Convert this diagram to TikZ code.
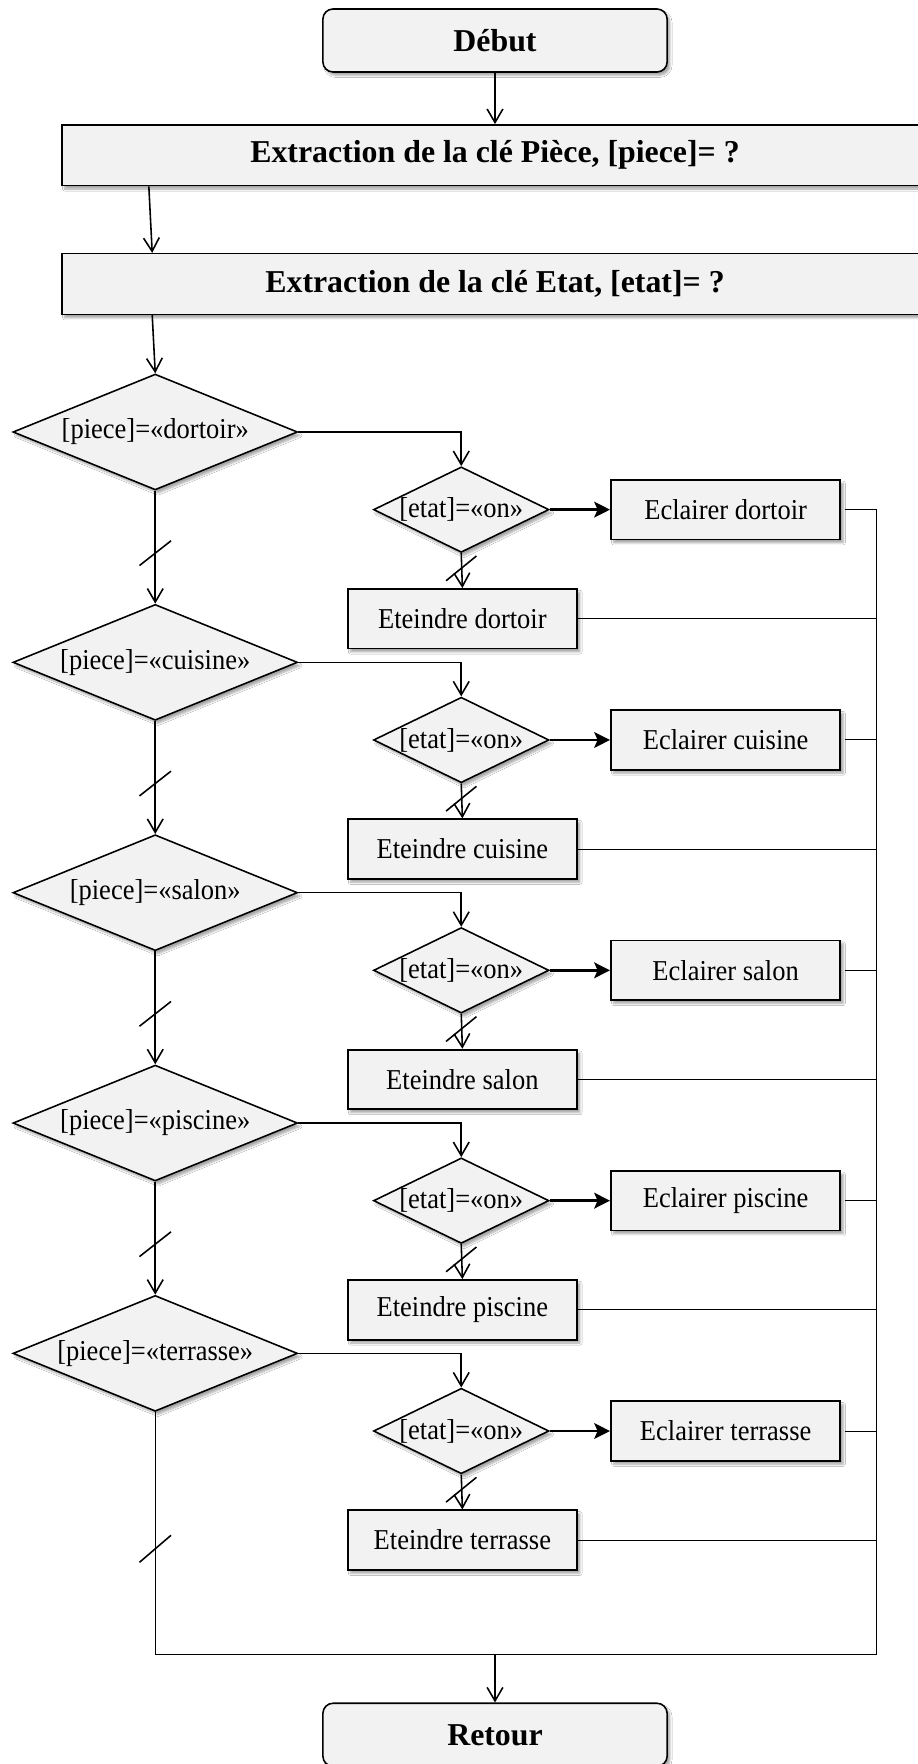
\documentclass[tikz,border=0pt]{standalone}
\usepackage{fontspec}
\setmainfont{Liberation Serif}
\newfontfamily\narrowserif[FakeStretch=0.92]{Liberation Serif}
\usetikzlibrary{shapes.geometric,arrows.meta,calc,shadows.blur}
\definecolor{boxfill}{RGB}{242,242,242}
\tikzset{
  shapebase/.style={draw=black, fill=boxfill, line width=1.4pt, inner sep=0pt,
    blur shadow={shadow xshift=2.5pt, shadow yshift=-3pt, shadow blur steps=6, shadow opacity=35}},
  regtext/.style={font=\narrowserif\fontsize{25.6}{30}\selectfont},
  boldtext/.style={font=\fontsize{28.3}{32}\selectfont\bfseries},
  terminal/.style={shapebase, boldtext, rounded corners=9pt, minimum width=306pt, minimum height=56pt},
  extract/.style={shapebase, boldtext, minimum width=770pt, minimum height=54pt},
  choice/.style={shapebase, regtext, diamond, minimum width=253pt, minimum height=103pt},
  subchoice/.style={shapebase, regtext, diamond, minimum width=156pt, minimum height=76pt},
  actbox/.style={shapebase, regtext, line width=1.6pt, minimum width=204pt, minimum height=53pt},
  flow/.style={line width=1.4pt, -{Straight Barb[length=12pt,width=14pt]}},
  strong/.style={line width=2.2pt, -{Stealth[length=14pt,width=14pt,inset=3pt]}},
  thinline/.style={line width=0.9pt},
  slashmark/.style={line width=1.4pt},
}
\begin{document}
\begin{tikzpicture}[x=1pt, y=-1pt]
  \useasboundingbox (0,0) rectangle (816,1568);
  \fill[white] (0,0) rectangle (816,1568);
  \clip (0,0) rectangle (816,1568);

  % start and the two key extractions
  \node[terminal] (debut) at (440,36) {Début};
  \node[extract] (p1) at (440,138) {Extraction de la clé Pièce, [piece]= ?};
  \node[extract] (p2) at (440,252.5) {Extraction de la clé Etat, [etat]= ?};

  % right-hand collecting rail and bottom corner
  \coordinate (rail) at (779,1471);
  \coordinate (corner) at (138,1471);

  % one block per room
  \foreach \n [count=\i from 0] in {dortoir,cuisine,salon,piscine,terrasse} {
    \pgfmathsetmacro\b{384+204.75*\i}
    \node[choice] (a\i) at (138,\b) {\makebox[0pt]{[piece]=«\n»}};
    \node[subchoice] (b\i) at (410,\b+69) {\makebox[0pt]{[etat]=«on»}};
    \node[actbox] (e\i) at (645,\b+69) {Eclairer \n};
    \node[actbox] (t\i) at (411,\b+166) {Eteindre \n};
    \draw[flow] (a\i.east) -| (b\i.north);
    \draw[strong] (b\i.east) -- (e\i.west);
    \draw[flow] (b\i.south) -- (t\i.north);
    \coordinate (s\i) at ($(b\i.south)+(0,13.5)$);
    \draw[slashmark] ([shift={(-13.5pt,-11pt)}]s\i) -- ([shift={(13.5pt,11pt)}]s\i);
    \draw[thinline] ([xshift=3pt]e\i.east) -- (e\i.east -| rail);
    \draw[thinline] (t\i.east) -- (t\i.east -| rail);
  }

  % chaining of the room tests
  \foreach \i/\j in {0/1,1/2,2/3,3/4} {
    \draw[flow] (a\i.south) -- (a\j.north);
    \coordinate (m\i) at ($(a\i.south)+(0,55.5)$);
    \draw[slashmark] ([shift={(-14pt,-11pt)}]m\i) -- ([shift={(14pt,11pt)}]m\i);
  }

  % top connections
  \draw[flow] (debut.south) -- (p1.north);
  \draw[flow] ([xshift=78pt]p1.south west) -- ([xshift=81pt]p2.north west);
  \draw[flow] ([xshift=81pt]p2.south west) -- (a0.north);

  % collecting rail down to the exit
  \draw[thinline] ([xshift=3pt]e0.east) -- (e0.east -| rail) -- (rail) -- (corner) -- (a4.south);
  \coordinate (m4) at ($(a4.south)+(0,121.5)$);
  \draw[slashmark] ([shift={(-14pt,-12pt)}]m4) -- ([shift={(14pt,12pt)}]m4);

  \node[terminal] (retour) at (440,1542) {Retour};
  \draw[flow] (corner -| retour.north) -- (retour.north);
\end{tikzpicture}
\end{document}
